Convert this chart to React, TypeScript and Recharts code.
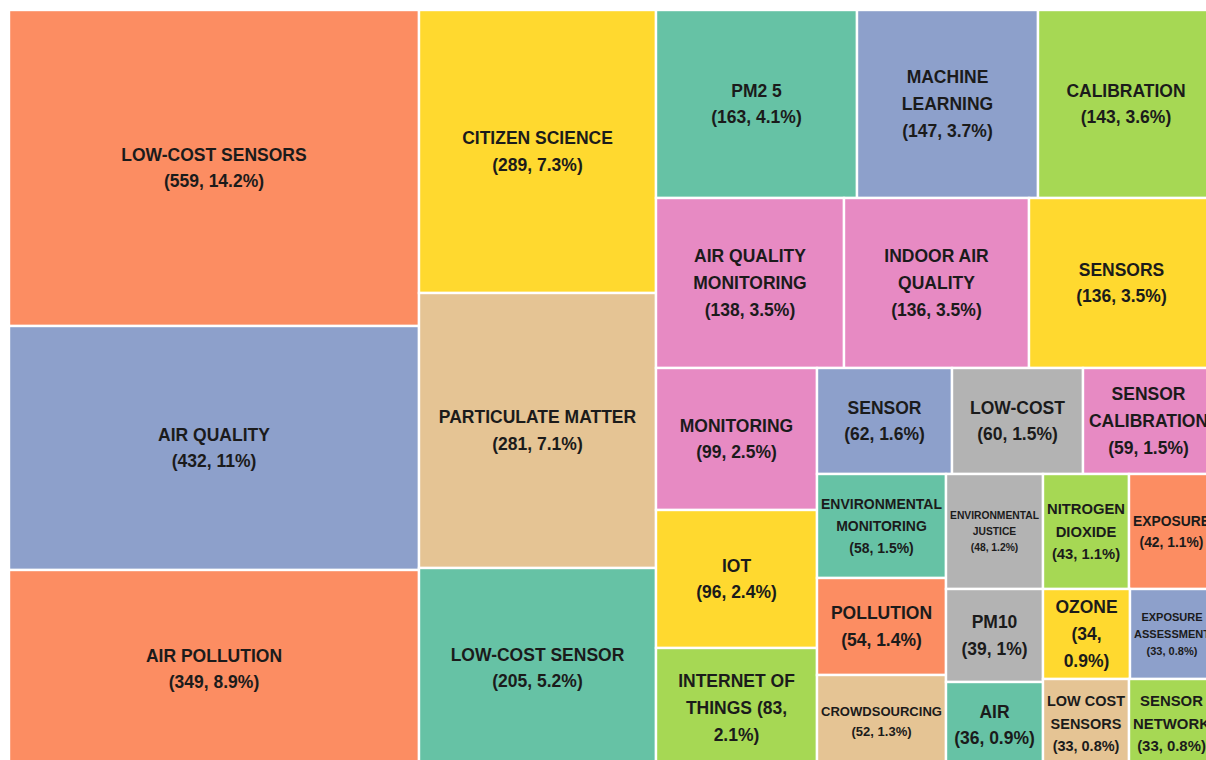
import React from 'react';
import { Treemap } from 'recharts';

// ---- data ----
const names: string[] = [
  'LOW-COST SENSORS', 'AIR QUALITY', 'AIR POLLUTION', 'CITIZEN SCIENCE', 'PARTICULATE MATTER', 'LOW-COST SENSOR',
  'PM2 5', 'MACHINE\nLEARNING', 'CALIBRATION', 'AIR QUALITY\nMONITORING', 'INDOOR AIR\nQUALITY', 'SENSORS',
  'MONITORING', 'IOT', 'INTERNET OF THINGS', 'SENSOR', 'LOW-COST', 'SENSOR\nCALIBRATION',
  'ENVIRONMENTAL\nMONITORING', 'POLLUTION', 'CROWDSOURCING', 'ENVIRONMENTAL\nJUSTICE', 'PM10', 'AIR',
  'NITROGEN\nDIOXIDE', 'EXPOSURE', 'OZONE', 'EXPOSURE\nASSESSMENT', 'LOW COST\nSENSORS', 'SENSOR\nNETWORK',
];
const counts: number[] = [
  559, 432, 349, 289, 281, 205,
  163, 147, 143, 138, 136, 136,
  99, 96, 83, 62, 60, 59,
  58, 54, 52, 48, 39, 36,
  43, 42, 34, 33, 33, 33,
];
const ORANGE = '#FC8D62';
const BLUE = '#8DA0CB';
const YELLOW = '#FFD92F';
const TAN = '#E5C494';
const GREEN = '#66C2A5';
const PINK = '#E78AC3';
const LIME = '#A6D854';
const GRAY = '#B3B3B3';
const colors: string[] = [
  ORANGE, BLUE, ORANGE, YELLOW, TAN, GREEN,
  GREEN, BLUE, LIME, PINK, PINK, YELLOW,
  PINK, YELLOW, LIME, BLUE, GRAY, PINK,
  GREEN, ORANGE, TAN, GRAY, GRAY, GREEN,
  LIME, ORANGE, YELLOW, BLUE, TAN, LIME,
];
// label layouts where the count/percentage wraps differently
const labelTemplates: Record<string, string> = {
  'INTERNET OF THINGS': 'INTERNET OF\nTHINGS ({n},\n{p}%)',
  OZONE: 'OZONE\n({n},\n{p}%)',
};

const total = counts.reduce((a, b) => a + b, 0);
const pctText = (v: number) => String(Math.round((v / total) * 1000) / 10);

// ---- tree (grouping only controls the library's squarified layout) ----
const leaf = (i: number) => ({ name: names[i], size: counts[i], idx: i });
const grp = (name: string, children: any[]) => ({ name, children });

const data = [
  ...[0, 1, 2, 3, 4, 5].map(leaf),
  grp('g-a', [
    leaf(6), leaf(7), leaf(8),
    grp('g-b', [
      leaf(9), leaf(10), leaf(11),
      grp('g-c', [
        leaf(12), leaf(13), leaf(14),
        grp('g-d', [
          leaf(15), leaf(16), leaf(17),
          grp('g-e', [
            leaf(18), leaf(19), leaf(20),
            grp('g-f', [
              grp('g-g', [leaf(21), leaf(22), leaf(23)]),
              grp('g-h', [24, 25, 26, 27, 28, 29].map(leaf)),
            ]),
          ]),
        ]),
      ]),
    ]),
  ]),
];

// ---- text measuring ----
const FONT_FAMILY = "'Liberation Sans', Arial, Helvetica, sans-serif";
const BASE = 17.5;
let ctx: CanvasRenderingContext2D | null = null;
const measure = (s: string, size: number) => {
  if (!ctx) ctx = document.createElement('canvas').getContext('2d');
  if (!ctx) return s.length * size * 0.7;
  ctx.font = `bold ${size}px ${FONT_FAMILY}`;
  return ctx.measureText(s).width;
};

const CellContent = (props: any) => {
  const { x, y, width, height, name } = props;
  let idx: number = props.idx;
  if (idx === undefined) idx = names.indexOf(name);
  if (idx === undefined || idx < 0 || (props.children && props.children.length)) return null;
  const n = counts[idx];
  const plain = names[idx].replace(/\n/g, ' ');
  const tpl = labelTemplates[plain] ?? `${names[idx]}\n({n}, {p}%)`;
  const lines = tpl.replace('{n}', String(n)).replace('{p}', pctText(n)).split('\n');
  const maxW = Math.max(...lines.map((l) => measure(l, BASE)));
  const lhFactor = 1.54;
  let fs = Math.min(BASE, (BASE * (width - 8)) / maxW, (height - 6) / (lines.length * lhFactor));
  fs = Math.max(fs, 6);
  const lh = fs * lhFactor;
  const cx = x + width / 2;
  const startY = y + height / 2 - ((lines.length - 1) * lh) / 2;
  return (
    <g>
      <rect x={x} y={y} width={width} height={height} fill={colors[idx]} stroke="#ffffff" strokeWidth={2.4} />
      {lines.map((l, i) => (
        <text
          key={i}
          x={cx}
          y={startY + i * lh}
          textAnchor="middle"
          dominantBaseline="central"
          fontSize={fs}
          fontWeight="bold"
          fontFamily={FONT_FAMILY}
          fill="#1b1b1b"
        >
          {l}
        </text>
      ))}
    </g>
  );
};

export default function App() {
  return (
    <div
      style={{
        position: 'absolute',
        left: 0,
        top: 0,
        width: 1206,
        height: 760,
        overflow: 'hidden',
        background: '#ffffff',
      }}
    >
      <div style={{ position: 'absolute', left: 9, top: 9.5 }}>
        <Treemap
          width={1205}
          height={758}
          data={data}
          dataKey="size"
          nameKey="name"
          aspectRatio={1.4}
          isAnimationActive={false}
          content={<CellContent />}
        />
      </div>
    </div>
  );
}
